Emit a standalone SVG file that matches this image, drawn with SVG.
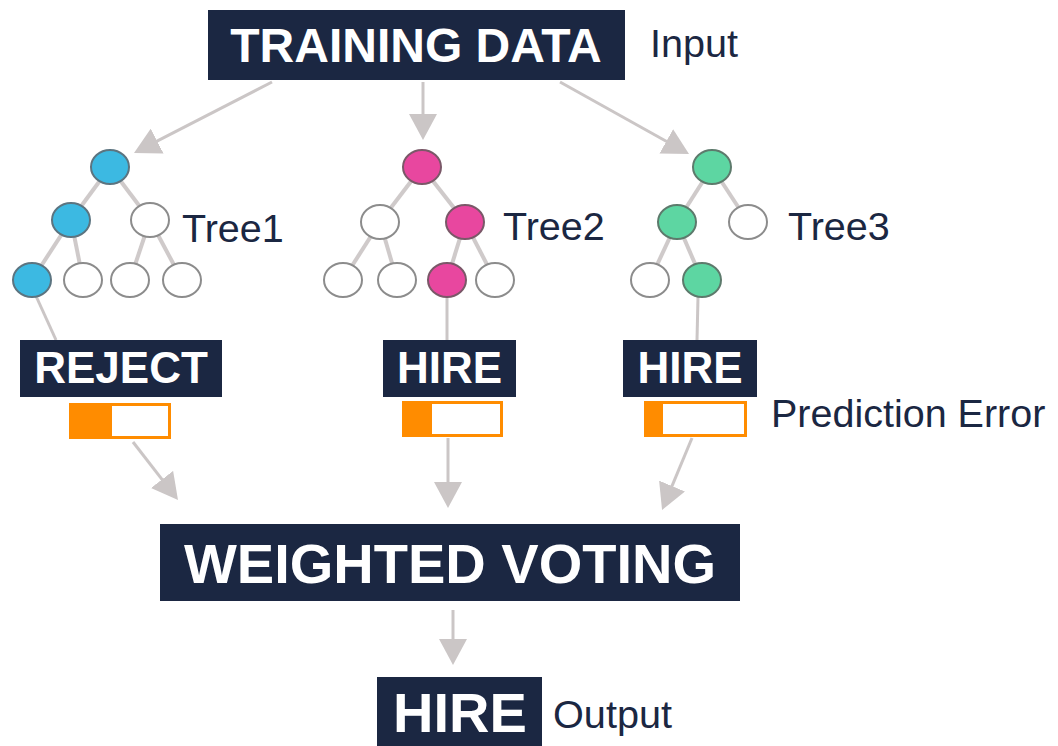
<svg xmlns="http://www.w3.org/2000/svg" width="1058" height="746" viewBox="0 0 1058 746">
<style>
.box{fill:#1b2742}
.bt{font-family:"Liberation Sans",Arial,sans-serif;font-weight:bold;fill:#ffffff;text-anchor:middle}
.lbl{font-family:"Liberation Sans",Arial,sans-serif;fill:#1b2742}
.edge{stroke:#cfcaca;stroke-width:4;fill:none}
.conn{stroke:#cbc6c6;stroke-width:3;fill:none}
.arr{marker-end:url(#ah)}
.w{fill:#ffffff;stroke:#8c8c8c;stroke-width:2}
.b{fill:#3cb9e2;stroke:#5c7480;stroke-width:2}
.p{fill:#e8479f;stroke:#7a5868;stroke-width:2}
.g{fill:#5dd6a2;stroke:#5d7a6c;stroke-width:2}
.bar{fill:#ffffff;stroke:#ff8c00;stroke-width:3}
.barf{fill:#ff8c00}
</style>
<defs>
<marker id="ah" viewBox="0 0 26 28" refX="4" refY="14" markerWidth="26" markerHeight="28" markerUnits="userSpaceOnUse" orient="auto">
<path d="M0,0 L26,14 L0,28 Z" fill="#cbc6c6"/>
</marker>
</defs>
<rect width="1058" height="746" fill="#ffffff"/>

<g id="connectors">
<line class="conn arr" x1="272" y1="82" x2="153.6" y2="142.9"/>
<line class="conn arr" x1="423" y1="82" x2="423" y2="118"/>
<line class="conn arr" x1="560" y1="82" x2="669.8" y2="143.3"/>
<line class="conn" x1="36" y1="296" x2="56" y2="340"/>
<line class="conn" x1="447" y1="297" x2="447" y2="340"/>
<line class="conn" x1="698" y1="297" x2="697" y2="340"/>
<line class="conn arr" x1="133" y1="442" x2="164.5" y2="482.6"/>
<line class="conn arr" x1="448" y1="438" x2="448" y2="486"/>
<line class="conn arr" x1="692" y1="438" x2="670.5" y2="489.7"/>
<line class="conn arr" x1="453" y1="610" x2="453" y2="643"/>
</g>

<g id="training-data">
<rect class="box" x="208" y="10" width="417" height="70"/>
<text class="bt" x="416" y="62" font-size="48">TRAINING DATA</text>
<text class="lbl" x="650" y="57" font-size="38" textLength="88" lengthAdjust="spacingAndGlyphs">Input</text>
</g>

<g id="tree1">
<g class="edge">
<line x1="110" y1="167" x2="71" y2="220"/><line x1="110" y1="167" x2="150" y2="220"/>
<line x1="71" y1="220" x2="32" y2="280"/><line x1="71" y1="220" x2="83" y2="280"/>
<line x1="150" y1="220" x2="130" y2="280"/><line x1="150" y1="220" x2="182" y2="280"/>
</g>
<ellipse class="b" cx="110" cy="167" rx="19" ry="17"/>
<ellipse class="b" cx="71" cy="220" rx="19" ry="17"/>
<ellipse class="w" cx="150" cy="220" rx="19" ry="17"/>
<ellipse class="b" cx="32" cy="280" rx="19" ry="17"/>
<ellipse class="w" cx="83" cy="280" rx="19" ry="17"/>
<ellipse class="w" cx="130" cy="280" rx="19" ry="17"/>
<ellipse class="w" cx="182" cy="280" rx="19" ry="17"/>
<text class="lbl" x="182" y="242" font-size="39.5">Tree1</text>
</g>

<g id="tree2">
<g class="edge">
<line x1="422" y1="167" x2="380" y2="222"/><line x1="422" y1="167" x2="465" y2="222"/>
<line x1="380" y1="222" x2="343" y2="280"/><line x1="380" y1="222" x2="397" y2="280"/>
<line x1="465" y1="222" x2="447" y2="280"/><line x1="465" y1="222" x2="495" y2="280"/>
</g>
<ellipse class="p" cx="422" cy="167" rx="19" ry="17"/>
<ellipse class="w" cx="380" cy="222" rx="19" ry="17"/>
<ellipse class="p" cx="465" cy="222" rx="19" ry="17"/>
<ellipse class="w" cx="343" cy="280" rx="19" ry="17"/>
<ellipse class="w" cx="397" cy="280" rx="19" ry="17"/>
<ellipse class="p" cx="447" cy="280" rx="19" ry="17"/>
<ellipse class="w" cx="495" cy="280" rx="19" ry="17"/>
<text class="lbl" x="503" y="240" font-size="39.5">Tree2</text>
</g>

<g id="tree3">
<g class="edge">
<line x1="712" y1="167" x2="677" y2="222"/><line x1="712" y1="167" x2="748" y2="222"/>
<line x1="677" y1="222" x2="650" y2="280"/><line x1="677" y1="222" x2="702" y2="280"/>
</g>
<ellipse class="g" cx="712" cy="167" rx="19" ry="17"/>
<ellipse class="g" cx="677" cy="222" rx="19" ry="17"/>
<ellipse class="w" cx="748" cy="222" rx="19" ry="17"/>
<ellipse class="w" cx="650" cy="280" rx="19" ry="17"/>
<ellipse class="g" cx="702" cy="280" rx="19" ry="17"/>
<text class="lbl" x="788" y="240" font-size="39.5">Tree3</text>
</g>

<g id="pred1">
<rect class="box" x="20" y="340" width="202" height="57"/>
<text class="bt" x="121" y="383" font-size="44">REJECT</text>
<rect class="bar" x="70.5" y="404.5" width="99" height="33"/>
<rect class="barf" x="69" y="403" width="43" height="36"/>
</g>

<g id="pred2">
<rect class="box" x="383" y="340" width="133" height="57"/>
<text class="bt" x="449.5" y="383" font-size="44">HIRE</text>
<rect class="bar" x="403.5" y="402.5" width="98" height="33"/>
<rect class="barf" x="402" y="401" width="30" height="36"/>
</g>

<g id="pred3">
<rect class="box" x="623" y="340" width="134" height="57"/>
<text class="bt" x="690" y="383" font-size="44">HIRE</text>
<rect class="bar" x="645.5" y="402.5" width="100" height="33"/>
<rect class="barf" x="644" y="401" width="19" height="36"/>
<text class="lbl" x="771" y="427" font-size="39.5">Prediction Error</text>
</g>

<g id="weighted-voting">
<rect class="box" x="160" y="524" width="580" height="77"/>
<text class="bt" x="450" y="583" font-size="56">WEIGHTED VOTING</text>
</g>

<g id="output">
<rect class="box" x="377" y="677" width="165" height="75"/>
<text class="bt" x="460" y="732" font-size="56">HIRE</text>
<text class="lbl" x="553" y="728" font-size="38" textLength="119" lengthAdjust="spacingAndGlyphs">Output</text>
</g>
</svg>
